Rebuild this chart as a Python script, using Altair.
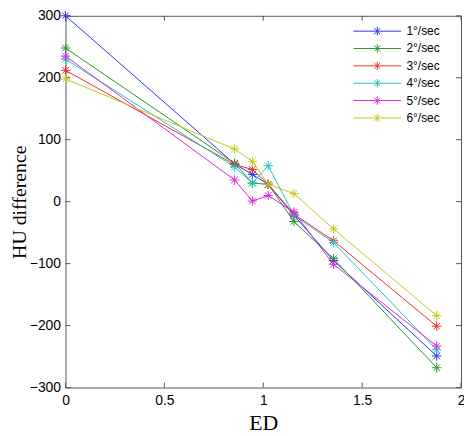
import altair as alt
import pandas as pd

# ED values (x) shared by all series
ed = [0, 0.855, 0.945, 1.025, 1.155, 1.355, 1.877]

series_names = ["1°/sec", "2°/sec", "3°/sec", "4°/sec", "5°/sec", "6°/sec"]
hu_1 = [300, 61, 44, 28, -22, -95, -249]
hu_2 = [248, 62, 30, 28, -32, -92, -268]
hu_3 = [212, 60, 52, 28, -20, -63, -201]
hu_4 = [230, 56, 30, 58, -22, -66, -239]
hu_5 = [235, 35, 1, 10, -17, -101, -233]
hu_6 = [198, 85, 65, 28, 13, -44, -184]

colors = ["#3030ee", "#2a962a", "#ec2e2e", "#22c2c2", "#d42cd4", "#c4c428"]

x_ticks = [0, 0.5, 1, 1.5, 2]
y_ticks = [-300, -200, -100, 0, 100, 200, 300]

rows = []
for name, vals in zip(series_names, [hu_1, hu_2, hu_3, hu_4, hu_5, hu_6]):
    for e, v in zip(ed, vals):
        rows.append({"ED": e, "HU": v, "series": name})
df = pd.DataFrame(rows)
tx = pd.DataFrame({"ED": x_ticks})
ty = pd.DataFrame({"HU": y_ticks})

W, H = 399, 375

STAR = "M-1,0H1M0,-1V1M-0.7,-0.7L0.7,0.7M-0.7,0.7L0.7,-0.7"
LEG = "M-4,0H4M0,-0.7V0.7M-0.5,-0.5L0.5,0.5M-0.5,0.5L0.5,-0.5"

x_enc = alt.X(
    "ED:Q",
    scale=alt.Scale(domain=[0, 2], nice=False, zero=False),
    axis=alt.Axis(
        values=x_ticks, format="~g", title="ED", grid=False, ticks=False,
        domain=False, labelFont="Liberation Sans", labelFontSize=14,
        labelColor="black", labelPadding=6, titleFont="Liberation Serif",
        titleFontSize=22, titleFontWeight="normal", titleColor="black",
        titlePadding=5, labelFlush=False,
    ),
)
y_enc = alt.Y(
    "HU:Q",
    scale=alt.Scale(domain=[-300, 300], nice=False, zero=False),
    axis=alt.Axis(
        values=y_ticks, format="d", title="HU difference", grid=False,
        ticks=False, domain=False, labelFont="Liberation Sans",
        labelFontSize=14, labelColor="black", labelPadding=5,
        titleFont="Liberation Serif", titleFontSize=20,
        titleFontWeight="normal", titleColor="black", titlePadding=0,
        labelFlush=False,
    ),
)

tick_color = "#555555"
bottom_ticks = alt.Chart(tx).mark_rule(color=tick_color, strokeWidth=1).encode(
    x=x_enc, y=alt.value(H), y2=alt.value(H - 5))
top_ticks = alt.Chart(tx).mark_rule(color=tick_color, strokeWidth=1).encode(
    x=x_enc, y=alt.value(0), y2=alt.value(5))
left_ticks = alt.Chart(ty).mark_rule(color=tick_color, strokeWidth=1).encode(
    y=y_enc, x=alt.value(0), x2=alt.value(5))
right_ticks = alt.Chart(ty).mark_rule(color=tick_color, strokeWidth=1).encode(
    y=y_enc, x=alt.value(W), x2=alt.value(W - 5))

lines = alt.Chart(df).mark_line(
    strokeWidth=1,
    point=alt.OverlayMarkDef(shape=STAR, filled=False, size=90, strokeWidth=1),
).encode(
    x=x_enc,
    y=y_enc,
    color=alt.Color(
        "series:N",
        sort=series_names,
        scale=alt.Scale(domain=series_names, range=colors),
        legend=alt.Legend(
            orient="none", legendX=308, legendY=9, title=None,
            symbolType=LEG, symbolSize=144, symbolStrokeWidth=1,
            symbolFillColor="transparent", labelFont="Liberation Sans",
            labelFontSize=12, labelColor="black", labelOffset=23,
            rowPadding=4.5, padding=0,
        ),
    ),
    order=alt.Order("ED:Q"),
)

chart = alt.layer(bottom_ticks, top_ticks, left_ticks, right_ticks, lines).properties(
    width=W,
    height=H,
    autosize=alt.AutoSizeParams(type="none"),
    padding={"left": 58, "top": 6, "right": 3, "bottom": 46},
).configure_view(stroke="#555555", strokeWidth=1)

chart.save("out.html", embed_options={"renderer": "svg", "actions": False})
